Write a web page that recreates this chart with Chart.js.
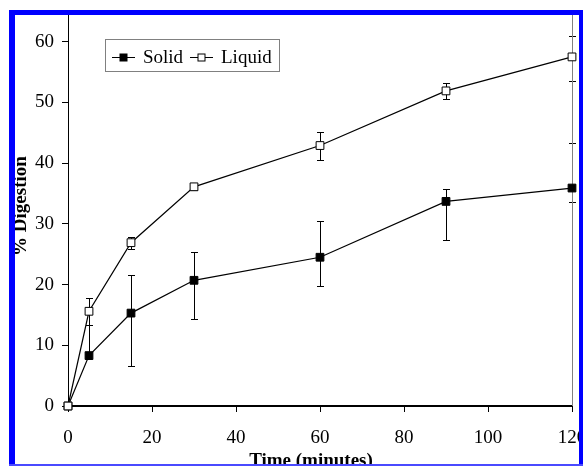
<!DOCTYPE html>
<html>
<head>
<meta charset="utf-8">
<script src="https://cdn.jsdelivr.net/npm/chart.js@4.4.1/dist/chart.umd.min.js"></script>
<style>
  html, body { margin: 0; padding: 0; background: #fff; }
  canvas { display: block; }
</style>
</head>
<body>
<canvas id="digestChart" width="583" height="466"></canvas>
<script>
'use strict';

// Data
var times = [0, 5, 15, 30, 60, 90, 120];
var solid = [0, 8.3, 15.3, 20.7, 24.5, 33.7, 35.9];
var solidHigh = [0, 13.3, 21.6, 25.4, 30.5, 35.8, 43.4];
var solidLow = [0, 8.3, 6.6, 14.3, 19.7, 27.4, 33.6];
var liquid = [0, 15.6, 26.9, 36.1, 42.9, 51.9, 57.5];
var liquidHigh = [0, 17.8, 27.9, 36.6, 45.1, 53.2, 61.0];
var liquidLow = [0, 13.3, 25.9, 35.6, 40.5, 50.6, 53.6];
var xTicks = [0, 20, 40, 60, 80, 100, 120];
var yTicks = [0, 10, 20, 30, 40, 50, 60];
var seriesNames = ['Solid', 'Liquid'];

var serif = "'Liberation Serif', 'Times New Roman', serif";

function toPoints(ys) {
  return times.map(function(t, i) { return { x: t, y: ys[i] }; });
}

// error bars under the markers
var errorBars = {
  id: 'errorBars',
  beforeDatasetsDraw: function(chart) {
    var ctx = chart.ctx, xs = chart.scales.x, ys = chart.scales.y;
    ctx.save();
    ctx.strokeStyle = '#000';
    ctx.lineWidth = 1;
    chart.data.datasets.forEach(function(ds) {
      ds.data.forEach(function(p, i) {
        var lo = ds.errLow[i], hi = ds.errHigh[i];
        if (lo === hi) return;
        var x = Math.round(xs.getPixelForValue(p.x)) + 0.5;
        var yLo = Math.round(ys.getPixelForValue(lo)) + 0.5;
        var yHi = Math.round(ys.getPixelForValue(hi)) + 0.5;
        ctx.beginPath();
        ctx.moveTo(x, yLo); ctx.lineTo(x, yHi);
        if (hi !== p.y) { ctx.moveTo(x - 3.5, yHi); ctx.lineTo(x + 3.5, yHi); }
        if (lo !== p.y) { ctx.moveTo(x - 3.5, yLo); ctx.lineTo(x + 3.5, yLo); }
        ctx.stroke();
      });
    });
    ctx.restore();
  }
};

var decorations = {
  id: 'decorations',
  beforeDatasetsDraw: function(chart) {
    // gray right edge of plot area
    var ctx = chart.ctx, a = chart.chartArea;
    ctx.save();
    ctx.strokeStyle = '#808080';
    ctx.lineWidth = 1;
    ctx.beginPath();
    ctx.moveTo(Math.round(a.right) + 0.5, a.top);
    ctx.lineTo(Math.round(a.right) + 0.5, a.bottom);
    ctx.stroke();
    ctx.restore();
  },
  afterDraw: function(chart) {
    var ctx = chart.ctx;
    ctx.save();

    // axis titles
    ctx.fillStyle = '#000';
    ctx.font = 'bold 19px ' + serif;
    ctx.textAlign = 'center';
    ctx.textBaseline = 'alphabetic';
    ctx.fillText('Time (minutes)', 311, 466);
    ctx.save();
    ctx.translate(26, 206);
    ctx.rotate(-Math.PI / 2);
    ctx.fillText('% Digestion', 0, 0);
    ctx.restore();

    // legend box
    ctx.fillStyle = '#fff';
    ctx.fillRect(105, 39, 175, 33);
    ctx.strokeStyle = '#808080';
    ctx.lineWidth = 1;
    ctx.strokeRect(105.5, 39.5, 174, 32);
    var items = [{ x: 112, ds: chart.data.datasets[0] }, { x: 190, ds: chart.data.datasets[1] }];
    ctx.font = '19px ' + serif;
    ctx.textAlign = 'left';
    ctx.textBaseline = 'middle';
    items.forEach(function(it, i) {
      var cy = 57.5;
      ctx.strokeStyle = '#000';
      ctx.beginPath();
      ctx.moveTo(it.x, cy); ctx.lineTo(it.x + 23, cy);
      ctx.stroke();
      ctx.fillStyle = it.ds.pointBackgroundColor;
      ctx.fillRect(it.x + 8, cy - 3.5, 7, 7);
      ctx.strokeRect(it.x + 8, cy - 3.5, 7, 7);
      ctx.fillStyle = '#000';
      ctx.fillText(seriesNames[i], it.x + 31, cy + 1);
    });

    // blue frame
    ctx.fillStyle = '#0000ff';
    ctx.fillRect(9, 10, 574, 5);
    ctx.fillRect(9, 10, 6, 456);
    ctx.fillRect(579, 10, 4, 456);
    ctx.fillStyle = '#4a4aff';
    ctx.fillRect(9, 464, 574, 2);
    ctx.restore();
  }
};

var ctx = document.getElementById('digestChart');
var chart = new Chart(ctx, {
  type: 'scatter',
  data: {
    datasets: [{
      label: seriesNames[0],
      data: toPoints(solid),
      errLow: solidLow,
      errHigh: solidHigh,
      showLine: true,
      borderColor: '#000',
      borderWidth: 1.2,
      pointStyle: 'rect',
      pointRadius: 5.5,
      pointBorderWidth: 1,
      pointBackgroundColor: '#000',
      pointBorderColor: '#000',
      order: 1,
      clip: false
    }, {
      label: seriesNames[1],
      data: toPoints(liquid),
      errLow: liquidLow,
      errHigh: liquidHigh,
      showLine: true,
      borderColor: '#000',
      borderWidth: 1.2,
      pointStyle: 'rect',
      pointRadius: 5.5,
      pointBorderWidth: 1,
      pointBackgroundColor: '#fff',
      pointBorderColor: '#000',
      order: 0,
      clip: false
    }]
  },
  options: {
    responsive: false,
    animation: false,
    devicePixelRatio: 1,
    layout: { padding: { top: 15, right: 11, left: 0, bottom: 0 } },
    plugins: { legend: { display: false }, tooltip: { enabled: false } },
    scales: {
      x: {
        type: 'linear',
        min: 0,
        max: 120,
        afterBuildTicks: function(s) { s.ticks = xTicks.map(function(v) { return { value: v }; }); },
        afterFit: function(s) { s.height = 60; s.paddingLeft = 0; s.paddingRight = 0; },
        border: { color: '#000', width: 2 },
        grid: { drawOnChartArea: false, color: '#000', tickLength: 6 },
        ticks: { color: '#000', font: { family: serif, size: 19 }, padding: 15, maxRotation: 0 }
      },
      y: {
        type: 'linear',
        min: 0,
        max: 64.4,
        afterBuildTicks: function(s) { s.ticks = yTicks.map(function(v) { return { value: v }; }); },
        afterFit: function(s) { s.width = 68; s.paddingTop = 0; s.paddingBottom = 0; },
        border: { color: '#000', width: 1 },
        grid: { drawOnChartArea: false, color: '#000', tickLength: 6 },
        ticks: { color: '#000', font: { family: serif, size: 19 }, padding: 8 }
      }
    }
  },
  plugins: [errorBars, decorations]
});
</script>
</body>
</html>
